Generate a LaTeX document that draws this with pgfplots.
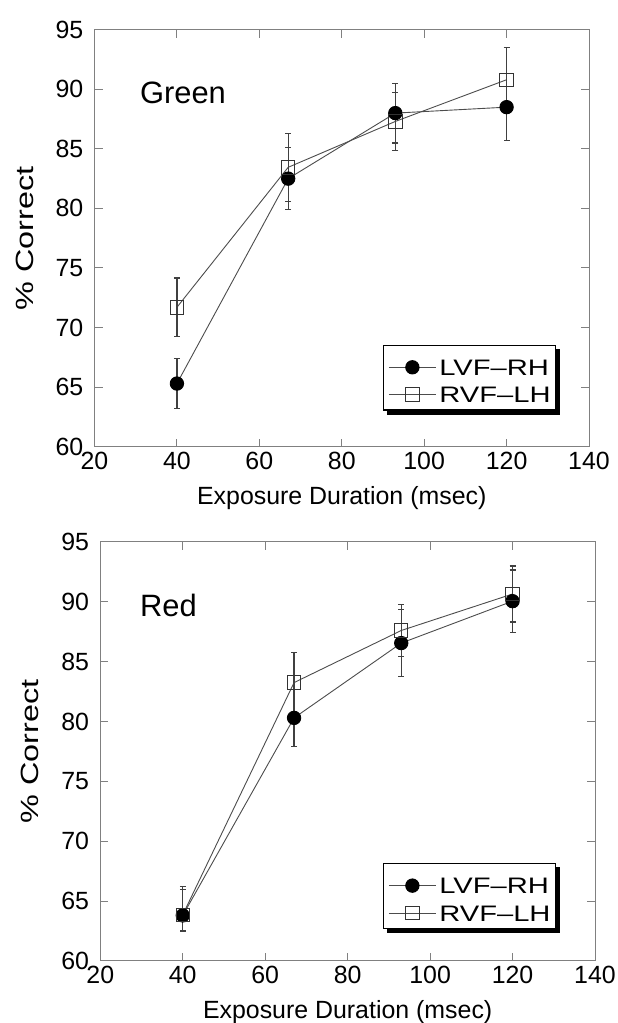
\documentclass[border=0pt]{standalone}
\usepackage{fontspec}
\setmainfont{Liberation Sans}
\newfontfamily\legfont[FakeStretch=1.3]{Liberation Sans}
\newfontfamily\ylabfont[FakeStretch=1.3]{Liberation Sans}
\usepackage{pgfplots}
\pgfplotsset{compat=1.18}
\usetikzlibrary{calc}

\definecolor{framegray}{gray}{0.5}
\definecolor{linegray}{gray}{0.3}

\newcommand{\rowa}{\rule{0pt}{22.8bp}}
\newcommand{\rowb}{\rule{0pt}{16.1bp}}
% black shadow strips to the right of and under a legend box
\newcommand{\legshadow}[1]{%
  \fill[black] ($(#1.south west)+(4bp,-4bp)$) rectangle ($(#1.south east)+(4bp,0bp)$);
  \fill[black] ($(#1.south east)+(0bp,-4bp)$) rectangle ($(#1.north east)+(4bp,-4bp)$);}

\pgfplotsset{
  panel/.style={
    scale only axis, width=494.5bp, height=417bp,
    xmin=20, xmax=140, ymin=60, ymax=95,
    xtick={20,40,...,140}, ytick={60,65,...,95},
    tick align=inside, major tick length=8bp,
    axis line style={framegray, line width=1bp},
    every tick/.style={framegray, line width=1bp},
    tick label style={font=\fontsize{25}{30}\selectfont},
    /pgf/number format/assume math mode=true,
    xticklabel style={inner sep=0pt, yshift=-5bp},
    yticklabel style={inner sep=0pt, xshift=-11bp},
    xlabel={Exposure Duration (msec)},
    ylabel={\% Correct},
    xlabel style={font=\fontsize{25}{30}\selectfont, at={(axis description cs:0.5,-0.138)}, anchor=base},
    ylabel style={font=\ylabfont\fontsize{25}{30}\selectfont, at={(axis description cs:-0.124,0.5)}, anchor=base},
    legend image code/.code={\draw[mark repeat=2, mark phase=2, ##1, line width=0.9bp] plot coordinates {(0bp,8bp) (23.5bp,8bp) (47bp,8bp)};},
    legend style={anchor=north west, draw=black, line width=1.3bp, fill=white,
      font=\legfont\fontsize{22.5}{27}\selectfont, inner xsep=5bp, inner ysep=7.3bp,
      column sep=3bp, row sep=11.3bp,
      nodes={inner sep=0pt, text depth=0bp},
      cells={anchor=base west}},
  },
  lvf/.style={linegray, line width=0.9bp, mark=*, mark size=6.7bp,
    mark options={fill=black, draw=black, line width=0.9bp},
    error bars/.cd, y dir=both, y explicit,
    error bar style={line width=1.3bp, black!75},
    error mark options={rotate=90, mark size=3bp, line width=1.3bp, black!75}},
  rvf/.style={linegray, line width=0.9bp, mark=square, mark size=6.7bp,
    mark options={draw=black!80, line width=1bp},
    error bars/.cd, y dir=both, y explicit,
    error bar style={line width=1.3bp, black!75},
    error mark options={rotate=90, mark size=3bp, line width=1.3bp, black!75}},
}

\begin{document}
\begin{tikzpicture}[x=1bp, y=1bp]
\useasboundingbox (0,0) rectangle (618,-1023);

% Green
\begin{axis}[panel, at={(94.5bp,-29.7bp)}, anchor=north west,
  legend style={at={(rel axis cs:0.583,0.245)}, name=legA}]
\addplot[lvf] coordinates {
  (40,65.3) +- (0,2.1)
  (67,82.5) +- (0,2.6)
  (93,88.0) +- (0,2.5)
  (120,88.5) +- (0,2.8)
};
\addlegendentry{\rowa LVF–RH}
\addplot[rvf] coordinates {
  (40,71.7) +- (0,2.45)
  (67,83.45) +- (0,2.85)
  (93,87.3) +- (0,2.45)
  (120,90.8) +- (0,2.7)
};
\addlegendentry{\rowb RVF–LH}
\node[anchor=base west, inner sep=0pt, font=\fontsize{31}{36}\selectfont] at (axis cs:31.0,88.8) {Green};
\end{axis}
\legshadow{legA}

% Red
\begin{axis}[panel, at={(100.3bp,-541.9bp)}, anchor=north west,
  height=419bp, width=494.7bp,
  legend style={at={(rel axis cs:0.571,0.234)}, name=legB}]
\addplot[lvf] coordinates {
  (40,63.8) += (0,2.4) -= (0,1.3)
  (67,80.3) +- (0,2.4)
  (93,86.55) +- (0,2.8)
  (120,90.05) +- (0,2.6)
};
\addlegendentry{\rowa LVF–RH}
\addplot[rvf] coordinates {
  (40,63.85) += (0,2.1) -= (0,1.4)
  (67,83.25) +- (0,2.5)
  (93,87.6) +- (0,2.2)
  (120,90.65) +- (0,2.35)
};
\addlegendentry{\rowb RVF–LH}
\node[anchor=base west, inner sep=0pt, font=\fontsize{31}{36}\selectfont] at (axis cs:29.6,88.8) {Red};
\end{axis}
\legshadow{legB}
\end{tikzpicture}
\end{document}
